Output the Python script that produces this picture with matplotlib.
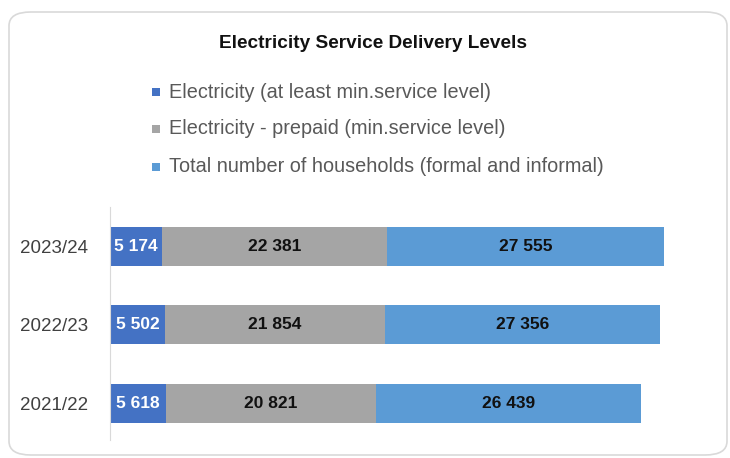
import matplotlib
matplotlib.use("Agg")
import matplotlib.pyplot as plt
from matplotlib.patches import FancyBboxPatch, Rectangle
from matplotlib import font_manager

years = ["2021/22", "2022/23", "2023/24"]
elec_min = [5618, 5502, 5174]
elec_prepaid = [20821, 21854, 22381]
total_hh = [26439, 27356, 27555]
series_names = ["Electricity (at least min.service level)",
                "Electricity - prepaid (min.service level)",
                "Total number of households (formal and informal)"]
colors = ["#4472C4", "#A5A5A5", "#5B9BD5"]
label_colors = ["white", "#111111", "#111111"]
title = "Electricity Service Delivery Levels"

names = {f.name for f in font_manager.fontManager.ttflist}
narrow = "Liberation Sans Narrow" if "Liberation Sans Narrow" in names else "Liberation Sans"

def fmt(v):
    return f"{v:,}".replace(",", " ")

fig = plt.figure(figsize=(7.3, 4.58), dpi=100)
fig.patch.set_facecolor("white")
frame = FancyBboxPatch((9/730, 3/458), 718/730, 443/458,
                       boxstyle="round,pad=0,rounding_size=0.03",
                       transform=fig.transFigure, facecolor="none",
                       edgecolor="#D9D9D9", linewidth=1.2, zorder=-1)
fig.patches.append(frame)

ax = fig.add_axes([110/730, 1 - 440/458, (713 - 110)/730, (440 - 207)/458])
ax.set_facecolor("none")
ypos = list(range(len(years)))
left = [0] * len(years)
for vals, c, lc in zip([elec_min, elec_prepaid, total_hh], colors, label_colors):
    bars = ax.barh(ypos, vals, left=left, height=0.5, color=c)
    for b, v in zip(bars, vals):
        ax.text(b.get_x() + b.get_width() / 2, b.get_y() + b.get_height() / 2, fmt(v),
                ha="center", va="center", color=lc, fontsize=12.5, fontweight="bold",
                family=narrow)
    left = [l + v for l, v in zip(left, vals)]

ax.set_xlim(0, 60000)
ax.set_ylim(-0.47, 2.5)
ax.set_yticks(ypos)
ax.set_yticklabels(years, family=narrow, fontsize=13.5, color="#404040")
ax.tick_params(axis="y", length=0, pad=16)
ax.set_xticks([])
for s in ["top", "right", "bottom"]:
    ax.spines[s].set_visible(False)
ax.spines["left"].set_color("#D9D9D9")

fig.text(373/730, 1 - 44/458, title, ha="center", va="center", fontsize=13.7,
         fontweight="bold", family=narrow, color="#111111")

leg_y = [92, 129, 167]
for name, c, y in zip(series_names, colors, leg_y):
    fig.patches.append(Rectangle((152/730, 1 - (y + 4)/458), 8/730, 8/458,
                                 transform=fig.transFigure, facecolor=c, edgecolor="none"))
    fig.text(169/730, 1 - y/458, name, ha="left", va="center", fontsize=14.3,
             family=narrow, color="#595959")

fig.savefig("out.png", dpi=100)
